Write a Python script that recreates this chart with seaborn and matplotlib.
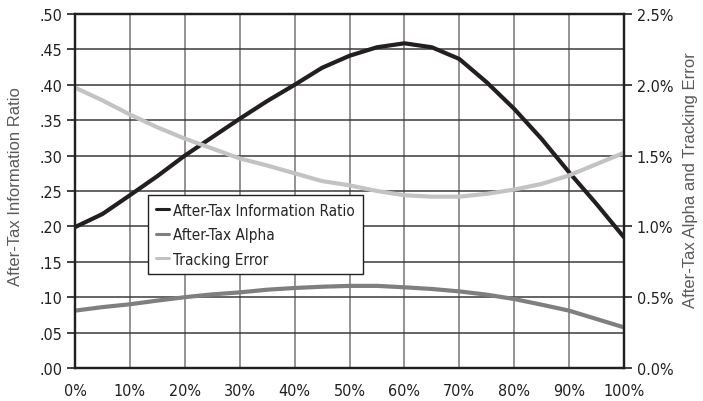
import matplotlib
matplotlib.use("Agg")
import matplotlib.pyplot as plt
import seaborn as sns
import pandas as pd
from matplotlib.ticker import FuncFormatter, MultipleLocator
from matplotlib import font_manager

# Data
pct = [0, 5, 10, 15, 20, 25, 30, 35, 40, 45, 50, 55, 60, 65, 70, 75, 80, 85, 90, 95, 100]
info_ratio = [0.199, 0.2175, 0.244, 0.271, 0.300, 0.326, 0.352, 0.377, 0.400, 0.424, 0.441,
              0.453, 0.4586, 0.453, 0.4365, 0.4035, 0.366, 0.3235, 0.2764, 0.2316, 0.1846]
alpha = [0.405, 0.43, 0.45, 0.476, 0.50, 0.52, 0.534, 0.553, 0.565, 0.574, 0.58,
         0.58, 0.57, 0.558, 0.541, 0.518, 0.487, 0.447, 0.405, 0.346, 0.287]
tracking = [1.98, 1.89, 1.79, 1.70, 1.62, 1.55, 1.48, 1.43, 1.375, 1.32, 1.29,
            1.25, 1.22, 1.21, 1.21, 1.23, 1.26, 1.30, 1.36, 1.44, 1.52]
x_ticks = [0, 10, 20, 30, 40, 50, 60, 70, 80, 90, 100]
x_labels = [f"{p}%" for p in x_ticks]

sns.set_style("white")

# pick a condensed font if one is installed
cands = []
for f in font_manager.fontManager.ttflist:
    st = f.stretch
    cond = (isinstance(st, str) and "condensed" in st) or (isinstance(st, int) and st < 500)
    if cond or "Narrow" in f.name or "Condensed" in f.name:
        cands.append(f)
fam, stretch = "DejaVu Sans", "normal"
pref = ["Liberation Sans Narrow", "DejaVu Sans", "Roboto Condensed", "Open Sans Condensed", "Noto Sans"]
chosen = None
for p in pref:
    for f in cands:
        if f.name == p and f.style == "normal":
            chosen = f
            break
    if chosen:
        break
if chosen is None and cands:
    chosen = cands[0]
if chosen is not None:
    fam, stretch = chosen.name, chosen.stretch
plt.rcParams["font.family"] = [fam, "DejaVu Sans"]
plt.rcParams["font.stretch"] = stretch
scale = 1.0 if chosen is not None else 0.85

fig = plt.figure(figsize=(7.03, 4.02), dpi=100)
ax = fig.add_axes([75/703, 1-369/402, (624-75)/703, (369-15)/402])
ax2 = ax.twinx()

df = pd.DataFrame({"x": pct, "ir": info_ratio, "alpha": alpha, "te": tracking})

c_ir, c_al, c_te = "#231f20", "#7f7f80", "#c3c3c5"
sns.lineplot(data=df, x="x", y="ir", ax=ax, color=c_ir, lw=3, label="After-Tax Information Ratio", legend=False)
sns.lineplot(data=df, x="x", y="alpha", ax=ax2, color=c_al, lw=3, label="After-Tax Alpha", legend=False)
sns.lineplot(data=df, x="x", y="te", ax=ax2, color=c_te, lw=3, label="Tracking Error", legend=False)

ax.set_xlim(0, 100)
ax.set_ylim(0, 0.5)
ax2.set_ylim(0, 2.5)
ax.set_xticks(x_ticks)
ax.set_xticklabels(x_labels)
ax.yaxis.set_major_locator(MultipleLocator(0.05))
ax2.yaxis.set_major_locator(MultipleLocator(0.5))
ax.yaxis.set_major_formatter(FuncFormatter(lambda v, p: f"{v:.2f}".lstrip("0") if v > 0 else ".00"))
ax2.yaxis.set_major_formatter(FuncFormatter(lambda v, p: f"{v:.1f}%"))

ax.grid(True, axis="y", color="#3a3a3a", lw=1.1)
ax.grid(True, axis="x", color="#777777", lw=1.1)
ax.set_axisbelow(True)
for a in (ax, ax2):
    for s in a.spines.values():
        s.set_color("#231f20")
        s.set_linewidth(1.6)
fs = 11.5 * scale
ax.tick_params(axis="x", length=0, pad=11, labelsize=fs, colors="#231f20")
ax.tick_params(axis="y", length=6, width=1.2, pad=3, labelsize=fs, colors="#231f20", left=True)
ax2.tick_params(axis="y", length=6, width=1.2, pad=3, labelsize=fs, colors="#231f20", right=True)

lab_font = dict(family=["Liberation Sans", "DejaVu Sans"], stretch="normal", size=12, color="#5a5a5a")
ax.set_xlabel("")
ax.set_ylabel("After-Tax Information Ratio", fontdict=lab_font)
ax2.set_ylabel("After-Tax Alpha and Tracking Error", fontdict=lab_font)
ax.yaxis.set_label_coords((23 - 75) / 549, (369 - 187) / 354)
ax2.yaxis.set_label_coords((683 - 75) / 549, (369 - 180) / 354)

h1, l1 = ax.get_legend_handles_labels()
h2, l2 = ax2.get_legend_handles_labels()
leg = ax2.legend(h1 + h2, l1 + l2, loc="upper left", bbox_to_anchor=((148-75)/549, (369-196)/354),
                 frameon=True, fancybox=False, edgecolor="#231f20", fontsize=11 * scale,
                 handlelength=0.85, handletextpad=0.3, borderpad=0.5, labelspacing=0.62,
                 borderaxespad=0)
leg.get_frame().set_linewidth(1.0)
leg.get_frame().set_alpha(1)
for line in leg.get_lines():
    line.set_linewidth(2.2)

fig.savefig("out.png", dpi=100)
